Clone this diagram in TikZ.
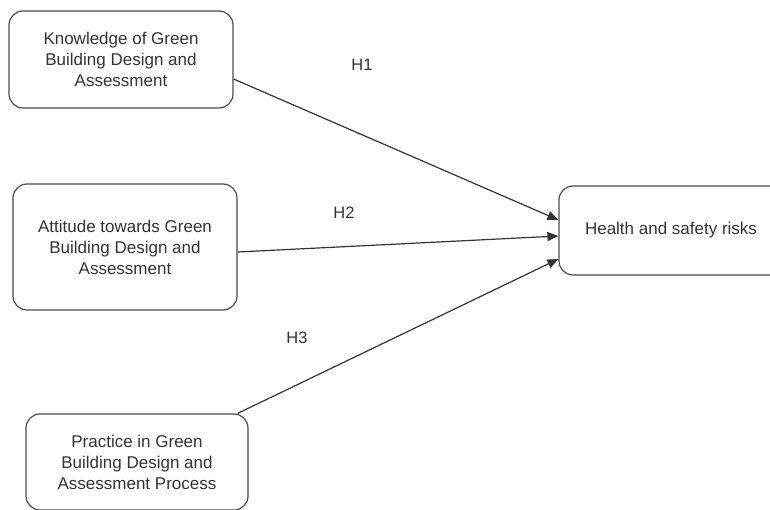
\documentclass[tikz,border=0pt]{standalone}
\usepackage{fontspec}
\setmainfont{Liberation Sans}
\usetikzlibrary{arrows.meta}

\begin{document}
\begin{tikzpicture}[x=1pt,y=-1pt,
    box/.style={draw=black!70,line width=1.2pt,rounded corners=14pt,align=center,
      text=black!80,font=\fontsize{17}{21}\selectfont,inner sep=0pt,
      minimum width=224pt},
    link/.style={draw=black!80,line width=1.2pt,-{Triangle[length=11pt,width=9pt]}},
    hyp/.style={text=black!80,font=\fontsize{16.5}{20}\selectfont}]

    \clip (0,0) rectangle (770,509);

    % constructs
    \node[box,minimum height=97pt] (know) at (121,59.5) {Knowledge of Green\\Building Design and\\Assessment};
    \node[box,minimum height=126pt] (att) at (125,247) {Attitude towards Green\\Building Design and\\Assessment};
    \node[box,minimum width=222pt,minimum height=96pt] (prac) at (137,462) {Practice in Green\\Building Design and\\Assessment Process};

    % outcome
    \node[box,minimum height=89pt] (risk) at (671,230.5) {Health and safety risks};

    %hypotheses
    \draw[link] ([yshift=-19.5pt]know.east) -- ([yshift=10.5pt]risk.west);
    \draw[link] ([yshift=-5pt]att.east) -- ([yshift=-5.5pt]risk.west);
    \draw[link] ([xshift=-11pt]prac.north east) -- ([yshift=-28.5pt]risk.west);

    \node[hyp] (h1) at (362,65) {H1};
    \node[hyp] (h2) at (344,213) {H2};
    \node[hyp] (h3) at (297,338) {H3};
\end{tikzpicture}
\end{document}
